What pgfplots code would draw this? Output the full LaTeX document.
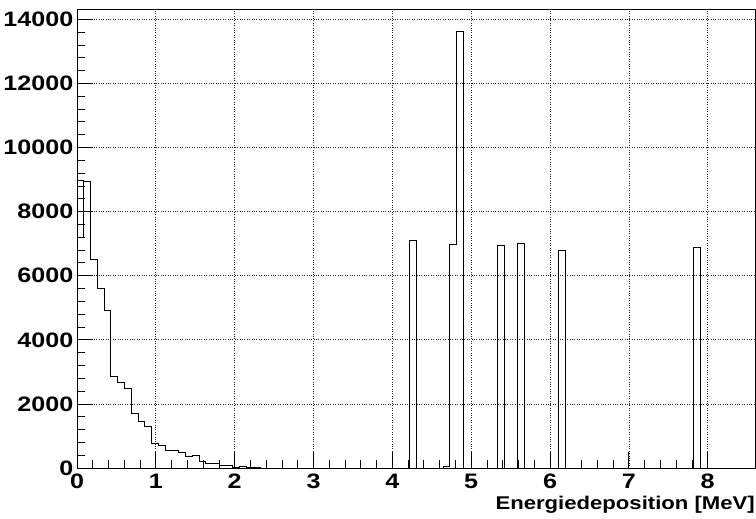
\documentclass[border=0pt]{standalone}
\usepackage{fontspec}
\setmainfont{Liberation Sans}[FakeStretch=1.2]
\usepackage{pgfplots}
\pgfplotsset{compat=1.18}
\begin{document}
\begin{tikzpicture}
\begin{axis}[
  scale only axis,
  width=678bp, height=458bp,
  xmin=0, xmax=8.6, ymin=0, ymax=14290,
  xtick={0,1,...,8},
  xticklabels={0,1,2,3,4,5,6,7,8},
  ytick={0,2000,...,14000},
  yticklabels={0,2000,4000,6000,8000,10000,12000,14000},
  minor x tick num=4, minor y tick num=4,
  xtick pos=bottom, ytick pos=left,
  tick align=inside,
  major tick length=16bp, minor tick length=8bp,
  tick style={black, line width=0.8bp},
  axis line style={line width=1bp, black},
  grid=major,
  major grid style={dotted, black!85, line width=0.7bp},
  tick label style={font=\fontsize{21}{24}\selectfont\bfseries},
  yticklabel style={inner sep=3.5bp},
  xticklabel style={inner sep=1.5bp, yshift=-4bp},
  xlabel={Energiedeposition [MeV]},
  xlabel style={at={(rel axis cs:1,0)}, anchor=north east, inner sep=0pt, yshift=-28bp, font=\fontsize{18.5}{20}\selectfont\bfseries},
]
\addplot[const plot, black, line width=1bp] coordinates {
(0,8970) (0.086,8940) (0.172,6495) (0.258,5610) (0.344,4915) (0.43,2857)
(0.516,2675) (0.602,2494) (0.688,1690) (0.774,1445) (0.86,1310) (0.946,780)
(1.032,710) (1.118,545) (1.204,545) (1.29,475) (1.376,362) (1.462,390)
(1.548,206) (1.634,156) (1.72,150) (1.806,81) (1.892,80) (1.978,20)
(2.064,50) (2.15,20) (2.236,20) (2.322,0)
(4.214,7090) (4.30,0)
(4.644,60) (4.73,6980) (4.816,13605) (4.902,0)
(5.332,6955) (5.418,0)
(5.59,6995) (5.676,0)
(6.106,6780) (6.192,0)
(7.826,6880) (7.912,0)
(8.6,0)
};
\addplot[black, line width=1bp] coordinates {(0,7200) (0.086,7200) (0.086,8970)};
\end{axis}
\pgfresetboundingbox
\path (current axis.south west) +(-77bp,-50bp) (current axis.north east) +(1bp,10bp);
\end{tikzpicture}
\end{document}
